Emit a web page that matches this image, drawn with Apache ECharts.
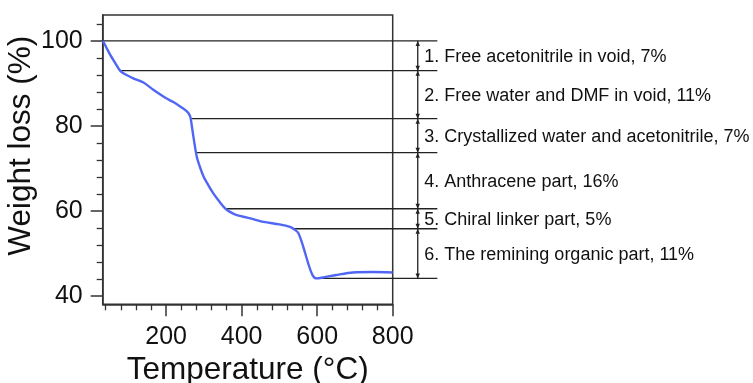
<!DOCTYPE html>
<html>
<head>
<meta charset="utf-8">
<script src="https://cdn.jsdelivr.net/npm/echarts@6/dist/echarts.min.js"></script>
<style>html,body{margin:0;padding:0;background:#fff}#c{width:753px;height:383px}</style>
</head>
<body>
<div id="c"></div>
<script>
// ---- data ----
const temps = [32.5, 42, 52, 65, 78, 90, 113, 140, 166, 200, 219, 240, 255, 263.5, 268, 272, 281, 290, 299, 312, 325, 340, 356, 370, 387, 420, 458, 500, 528, 540, 550, 563, 576, 588, 598, 620, 650, 695, 748, 800];
const weights = [100, 98.4, 96.7, 94.8, 93, 92.2, 91.2, 90.2, 88.5, 86.5, 85.6, 84.4, 83.4, 82.3, 80, 77.6, 72.8, 70.2, 68.1, 66, 64.1, 62.3, 60.6, 59.7, 59, 58.3, 57.4, 56.8, 56.2, 55.6, 54.8, 51.6, 47.7, 44.8, 44.1, 44.4, 44.9, 45.5, 45.6, 45.5];
const stepLevels = [100, 93, 81.7, 73.7, 60.5, 55.8, 44.1];
const stepStarts = [32.5, 78, 263.5, 279, 358.7, 536.8, 598];
const stepLabels = [
  '1. Free acetonitrile in void, 7%',
  '2. Free water and DMF in void, 11%',
  '3. Crystallized water and acetonitrile, 7%',
  '4. Anthracene part, 16%',
  '5. Chiral linker part, 5%',
  '6. The remining organic part, 11%'
];
const xMajorTicks = [200, 400, 600, 800];
const xMinorTicks = [40, 80, 120, 160, 240, 280, 320, 360, 440, 480, 520, 560, 640, 680, 720, 760];
const yMajorTicks = [40, 60, 80, 100];
const yMinorTicks = [44, 48, 52, 56, 64, 68, 72, 76, 84, 88, 92, 96, 104];

// ---- chart ----
const FONT = 'Liberation Sans, Arial, Helvetica, sans-serif';
const LINE_END_T = 918.2, ARROW_T = 866.3, LABEL_T = 883.7;
const chart = echarts.init(document.getElementById('c'), null, {renderer: 'canvas'});
const xBase = {type: 'value', min: 32, max: 800, position: 'bottom', splitLine: {show: false}};
const yBase = {type: 'value', min: 38, max: 106.1, position: 'left', splitLine: {show: false}};

function annot(params, api) {
  const i = params.dataIndex;
  const children = [];
  const p0 = api.coord([stepStarts[i], stepLevels[i]]);
  const p1 = api.coord([LINE_END_T, stepLevels[i]]);
  children.push({type: 'line', shape: {x1: p0[0], y1: p0[1], x2: p1[0], y2: p1[1]},
    style: {stroke: '#222', lineWidth: 1.4}});
  if (i > 0) {
    const a = api.coord([ARROW_T, stepLevels[i - 1]]);
    const b = api.coord([ARROW_T, stepLevels[i]]);
    const hw = 2.2, hh = 5;
    children.push({type: 'line', shape: {x1: a[0], y1: a[1], x2: b[0], y2: b[1]},
      style: {stroke: '#222', lineWidth: 1.3}});
    children.push({type: 'polygon', shape: {points: [[a[0], a[1]], [a[0] - hw, a[1] + hh], [a[0] + hw, a[1] + hh]]},
      style: {fill: '#222'}});
    children.push({type: 'polygon', shape: {points: [[b[0], b[1]], [b[0] - hw, b[1] - hh], [b[0] + hw, b[1] - hh]]},
      style: {fill: '#222'}});
    const t = api.coord([LABEL_T, (stepLevels[i - 1] + stepLevels[i]) / 2]);
    children.push({type: 'text', x: t[0], y: t[1] + 1,
      style: {text: stepLabels[i - 1], fill: '#111', font: '18px ' + FONT, textAlign: 'left', textVerticalAlign: 'middle'}});
  }
  return {type: 'group', children: children};
}

chart.setOption({
  animation: false,
  backgroundColor: '#fff',
  grid: {left: 102.7, right: 360.3, top: 15, bottom: 78.7, outerBoundsMode: 'none', containLabel: false,
    show: true, borderColor: '#333', borderWidth: 1.5, backgroundColor: 'transparent'},
  xAxis: [
    Object.assign({}, xBase, {
      name: 'Temperature (°C)', nameLocation: 'middle', nameGap: 46,
      nameTextStyle: {fontSize: 31.5, color: '#111', fontFamily: FONT},
      axisLine: {show: true, lineStyle: {color: '#333', width: 1.5}},
      axisTick: {show: true, length: 12, customValues: xMajorTicks, lineStyle: {color: '#333', width: 1.5}},
      axisLabel: {show: true, customValues: xMajorTicks, margin: 20, fontSize: 25, color: '#111', fontFamily: FONT}
    }),
    Object.assign({}, xBase, {
      axisLine: {show: false},
      axisTick: {show: true, length: 6, customValues: xMinorTicks, lineStyle: {color: '#333', width: 1.3}},
      axisLabel: {show: false}
    })
  ],
  yAxis: [
    Object.assign({}, yBase, {
      name: 'Weight loss (%)', nameLocation: 'middle', nameGap: 62,
      nameTextStyle: {fontSize: 31.5, color: '#111', fontFamily: FONT, padding: [0, 0, 0, 28]},
      axisLine: {show: true, lineStyle: {color: '#333', width: 1.5}},
      axisTick: {show: true, length: 12, customValues: yMajorTicks, lineStyle: {color: '#333', width: 1.5}},
      axisLabel: {show: true, customValues: yMajorTicks, margin: 20, fontSize: 25, color: '#111', fontFamily: FONT}
    }),
    Object.assign({}, yBase, {
      axisLine: {show: false},
      axisTick: {show: true, length: 6, customValues: yMinorTicks, lineStyle: {color: '#333', width: 1.3}},
      axisLabel: {show: false}
    })
  ],
  series: [
    {
      type: 'custom', xAxisIndex: 0, yAxisIndex: 0, clip: false, z: 3,
      renderItem: annot,
      data: stepLevels.map((v, i) => [stepStarts[i], v])
    },
    {
      type: 'line', xAxisIndex: 0, yAxisIndex: 0, z: 4,
      data: temps.map((t, i) => [t, weights[i]]),
      showSymbol: false, smooth: 0.3,
      lineStyle: {color: '#5067f5', width: 2.4}
    }
  ]
});
</script>
</body>
</html>
